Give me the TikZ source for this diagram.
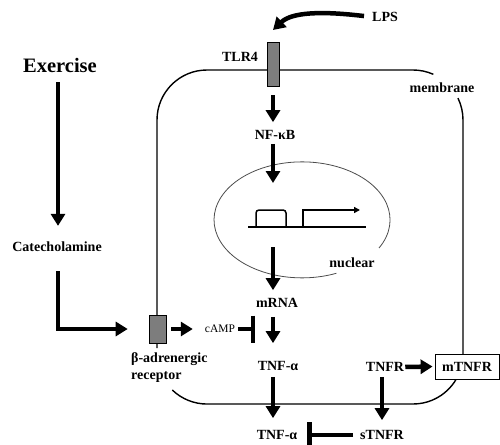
\documentclass[tikz,border=0pt]{standalone}
\usepackage{fontspec}
\setmainfont{Liberation Serif}
\usetikzlibrary{arrows.meta,calc}
\definecolor{recgray}{RGB}{125,125,125}
\begin{document}
\begin{tikzpicture}[x=1pt,y=-1pt,
  lbl/.style={font=\fontsize{14}{17}\selectfont\bfseries, inner sep=0pt},
  bigarrow/.style={line width=4.5pt, line join=miter, -{Triangle[width=14pt,length=12pt]}},
  inhib/.style={line width=4.5pt, -{Bar[width=27pt]}},
  membr/.style={line width=1.4pt},
  recbox/.style={draw=black, line width=0.6pt, fill=recgray, inner sep=0pt},
  genel/.style={line width=1.5pt}
]
\useasboundingbox (0,0) rectangle (500,444);

% membrane
\draw[membr] (157,348) -- (157,120) arc[start angle=180, end angle=90, radius=50pt] -- (413,70) arc[start angle=90, end angle=66, radius=50pt];
\draw[membr] (172.3,390) arc[start angle=226, end angle=270, radius=50pt] -- (413,404) arc[start angle=270, end angle=360, radius=50pt] -- (463,120) arc[start angle=0, end angle=26, radius=50pt];

% nucleus
\draw[line width=0.8pt, gray!60!black] (379,248) arc[start angle=-29, end angle=293, x radius=88pt, y radius=58pt];

% gene
\draw[genel] (248,227) -- (366,227);
\draw[genel, rounded corners=3pt] (256,227) -- (256,210) -- (286,210) -- (286,227);
\draw[genel, -{Triangle[length=6pt,width=6pt]}] (303,227) -- (303,210) -- (360,210);

% boxes
\node[recbox, minimum width=12pt, minimum height=44pt] (tlr4) at (273,64) {};
\node[recbox, minimum width=17pt, minimum height=28pt] (rec) at (157.5,329) {};
\node[lbl, draw, line width=0.8pt, fill=white, minimum width=64pt, minimum height=25pt] (mtnfr) at (467,366.5) {mTNFR};

% labels
\node[lbl, font=\fontsize{20.5}{24}\selectfont\bfseries] (exercise) at (60,65) {Exercise};
\node[lbl] (cat) at (57,247) {Catecholamine};
\node[lbl] (lps) at (385,17) {LPS};
\node[lbl] (tlr4l) at (240,57) {TLR4};
\node[lbl] (nfkb) at (275,135) {NF-κB};
\node[lbl] (nuclear) at (352,263) {nuclear};
\node[lbl] (mrna) at (277,303) {mRNA};
\node[font=\fontsize{11.5}{13}\selectfont, inner sep=0pt] (camp) at (220,329) {cAMP};
\node[lbl] (tnf1) at (278,366) {TNF-α};
\node[lbl] (tnf2) at (277,435) {TNF-α};
\node[lbl] (tnfr) at (385,367) {TNFR};
\node[lbl] (stnfr) at (382,435) {sTNFR};
\node[lbl] (membrane) at (442,88) {membrane};
\node[lbl, align=left, anchor=west] (beta) at (131,368) {β-adrenergic\\receptor};

% helper coordinates
\coordinate (ax) at (273,0);
\coordinate (cx) at (58,0);
\coordinate (lpstip) at (273,30);
\coordinate (nucin) at (273,183);
\coordinate (nucout) at (273,247);
\coordinate (inh) at (255,329);

% arrows
\draw[bigarrow, shorten <=8pt] (lps.west) .. controls (322,11) and (292,12) .. (lpstip);
\draw[bigarrow, shorten <=9pt, shorten >=8pt] (tlr4.south) -- (nfkb.north -| ax);
\draw[bigarrow, shorten <=4pt] (nfkb.south -| ax) -- (nucin);
\draw[bigarrow, shorten >=8pt] (nucout) -- (mrna.north -| ax);
\draw[bigarrow, shorten <=9pt, shorten >=18pt] (mrna.south -| ax) -- (tnf1.north -| ax);
\draw[bigarrow, shorten <=6pt, shorten >=12pt] (tnf1.south -| ax) -- (tnf2.north -| ax);
\draw[bigarrow, shorten <=10pt, shorten >=16pt] (exercise.south -| cx) -- (cat.north -| cx);
\draw[bigarrow, shorten <=19pt, shorten >=21pt] (cat.south -| cx) |- (rec.west);
\draw[bigarrow, shorten <=5pt, shorten >=12pt] (rec.east) -- (camp.west);
\draw[inhib, shorten <=3pt] (camp.east) -- (inh);
\draw[bigarrow, shorten <=1pt, shorten >=2pt] (tnfr.east) -- (mtnfr.west);
\draw[bigarrow, shorten <=5pt, shorten >=10pt] (tnfr.south -| stnfr) -- (stnfr.north);
\draw[inhib, shorten <=7pt, shorten >=10pt] (stnfr.west) -- (tnf2.east);
\end{tikzpicture}
\end{document}
